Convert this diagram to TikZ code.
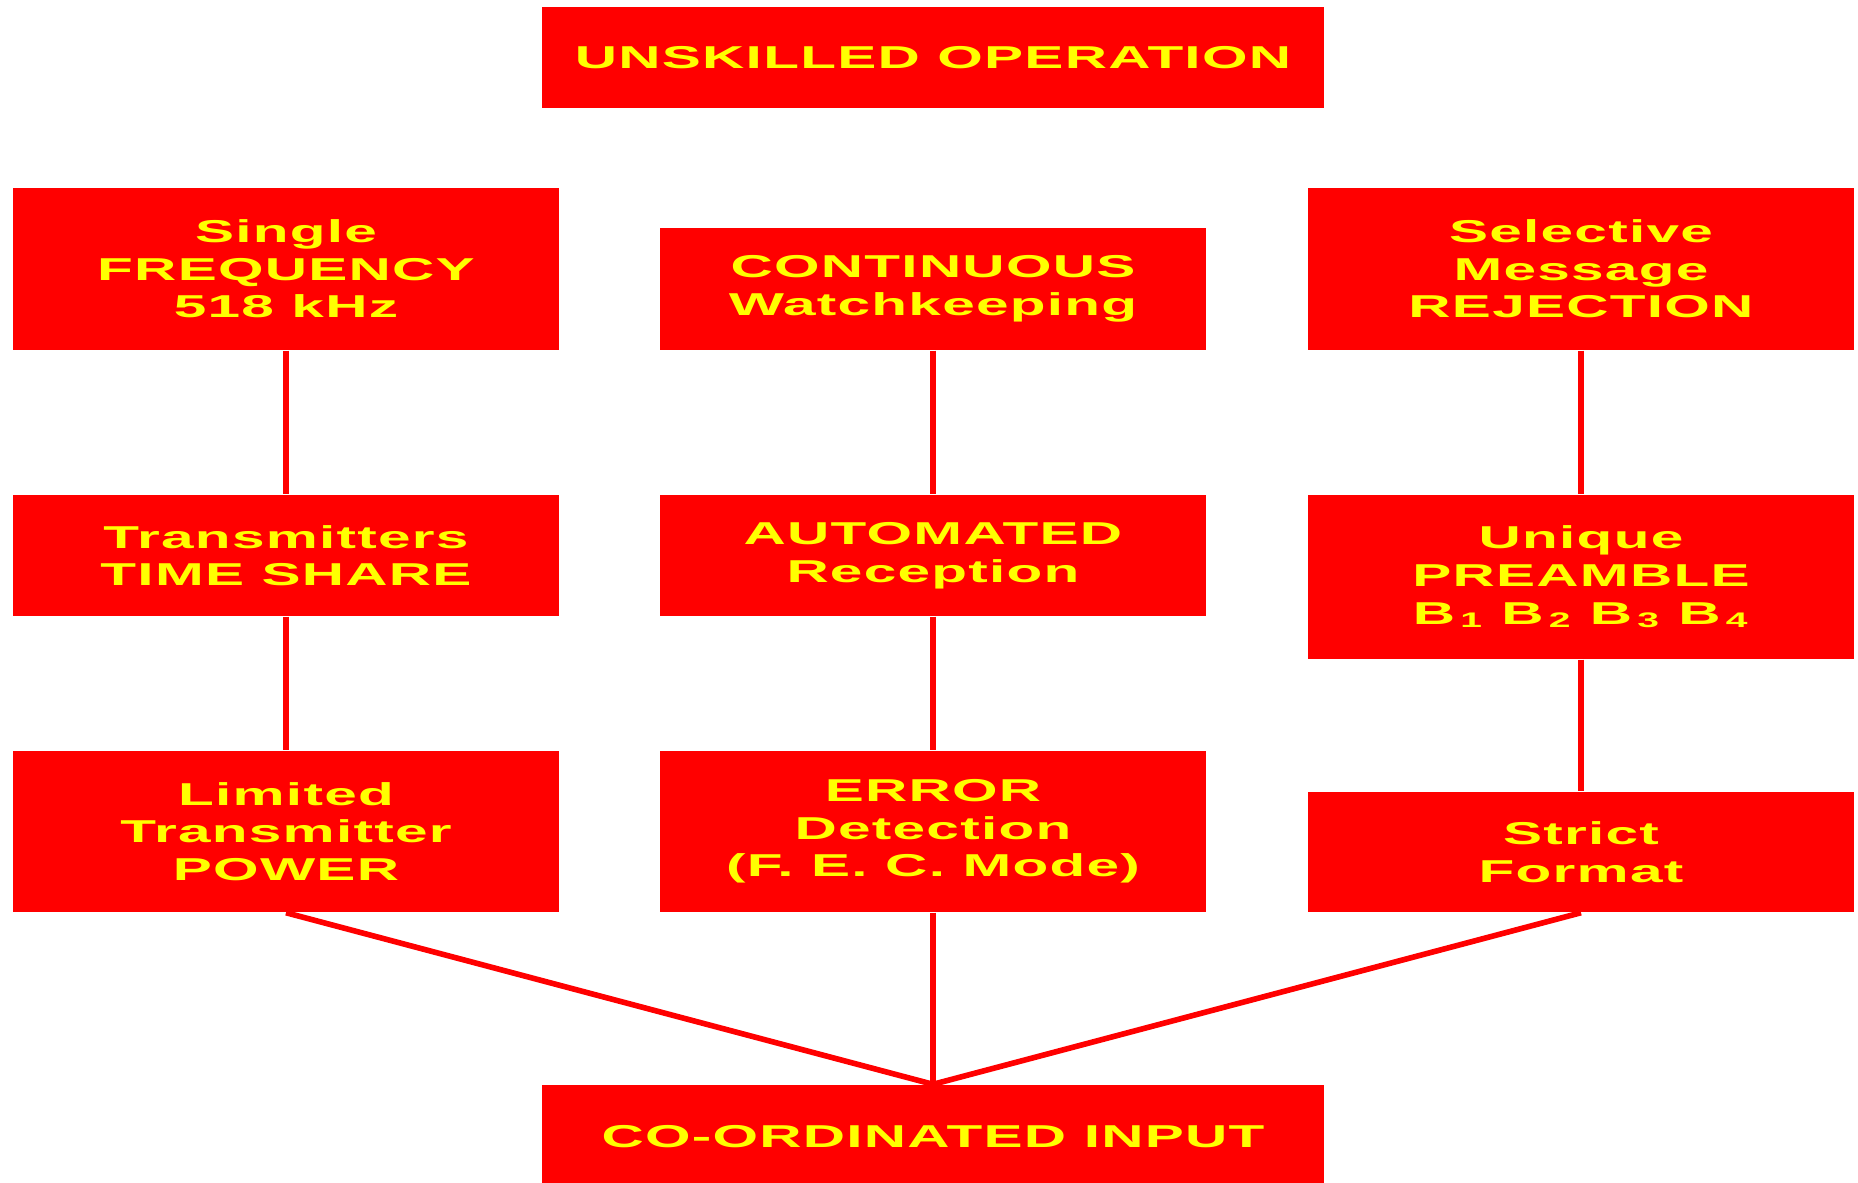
\documentclass[tikz,border=0pt]{standalone}
\usepackage{fontspec}
\setmainfont{Liberation Sans}[FakeStretch=1.85,LetterSpace=4]
\usepackage{tikz}
\usetikzlibrary{shapes,arrows,positioning}
\definecolor{boxred}{RGB}{255,0,0}
\definecolor{boxyellow}{RGB}{255,255,0}
\tikzstyle{Box} = [rectangle, fill=boxred, text=boxyellow, minimum width=5.46cm, inner sep=0pt, font=\fontsize{9pt}{10.7pt}\selectfont\bfseries]
\tikzstyle{line} = [draw=boxred, line width=1.6pt]

\begin{document}
\begin{tikzpicture}[every text node part/.style={align=center}]
\useasboundingbox (0,0) rectangle (18.58,-11.82);
\node (Unskilled)[Box, minimum width=7.82cm, minimum height=1.01cm] at (9.33,-0.575){UNSKILLED OPERATION};
\node (Continuous)[Box, minimum height=1.22cm, below of = Unskilled, yshift=-1.315cm]{CONTINUOUS \\
Watchkeeping
};
\node (Single)[Box, minimum height=1.62cm, left of = Continuous, xshift=-5.47cm, yshift=0.2cm]{Single \\
FREQUENCY \\
518 kHz
};
\node (Selective)[Box, minimum height=1.62cm, right of = Continuous, xshift=5.48cm, yshift=0.2cm]{Selective \\
Message \\
REJECTION
};
\node (Automated)[Box, minimum height=1.21cm, below of = Continuous, yshift=-1.665cm]{AUTOMATED \\
Reception
};
\node (Time Share)[Box, minimum height=1.21cm, left of = Automated, xshift=-5.47cm]{Transmitters \\
TIME SHARE
};
\node (Preamble)[Box, minimum height=1.64cm, right of = Automated, xshift=5.48cm, yshift=-0.215cm]{Unique \\
PREAMBLE \\
B\,\textsubscript{1} B\,\textsubscript{2} B\,\textsubscript{3} B\,\textsubscript{4}
};
\node (Error)[Box, minimum height=1.61cm, below of = Automated, yshift=-1.76cm]{ERROR \\
Detection \\
(F. E. C. Mode)
};
\node (Power)[Box, minimum height=1.61cm, left of = Error, xshift=-5.47cm]{Limited \\
Transmitter \\
POWER
};
\node (Strict)[Box, minimum height=1.20cm, right of = Error, xshift=5.48cm, yshift=-0.205cm]{Strict \\
Format
};
\node (Input)[Box, minimum width=7.82cm, minimum height=1.04cm, below of = Error, yshift=-2.055cm]{CO-ORDINATED INPUT};

\draw[line](Single)--(Time Share);
\draw[line](Time Share)--(Power);
\draw[line](Continuous)--(Automated);
\draw[line](Automated)--(Error);
\draw[line](Selective)--(Preamble);
\draw[line](Preamble)--(Strict);
\draw[line](Power.south)--(Input.north);
\draw[line](Error.south)--(Input.north);
\draw[line](Strict.south)--(Input.north);

\end{tikzpicture}
\end{document}
